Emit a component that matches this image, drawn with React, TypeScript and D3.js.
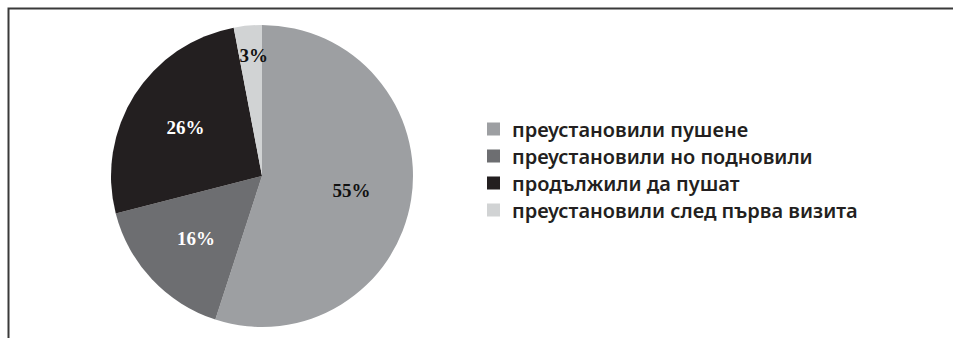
import React from 'react';
import * as d3 from 'd3';

const categories = [
  'преустановили пушене',
  'преустановили но подновили',
  'продължили да пушат',
  'преустановили след първа визита',
];
const values = [55, 16, 26, 3];
const colors = ['#9d9fa2', '#6d6e71', '#231f20', '#d1d3d4'];
const labelColors = ['#111', '#fff', '#fff', '#111'];

const W = 953;
const H = 338;
const cx = 262;
const cy = 176;
const R = 151;

export default function App() {
  const pie = d3.pie<number>().sort(null).value((d) => d).startAngle(0).endAngle(2 * Math.PI);
  const arcs = pie(values);
  const arc = d3.arc<d3.PieArcDatum<number>>().innerRadius(0).outerRadius(R);
  const labelArc = d3.arc<d3.PieArcDatum<number>>().innerRadius(R * 0.6).outerRadius(R * 0.6);
  const smallLabelArc = d3.arc<d3.PieArcDatum<number>>().innerRadius(R * 0.8).outerRadius(R * 0.8);
  const legendY = d3.scaleBand<number>().domain(d3.range(categories.length)).range([116, 224]);

  return (
    <svg width={W} height={H} style={{ position: 'absolute', left: 0, top: 0 }} lang="bg">
      <rect width={W} height={H} fill="#fff" />
      <path d={`M8.5,${H} L8.5,8.5 L${W},8.5`} fill="none" stroke="#3a3a3a" strokeWidth={2} />
      <g transform={`translate(${cx},${cy})`}>
        {arcs.map((a, i) => (
          <path key={i} d={arc(a) || ''} fill={colors[i]} />
        ))}
        {arcs.map((a, i) => {
          const [x, y] = (values[i] < 5 ? smallLabelArc : labelArc).centroid(a);
          return (
            <text
              key={i}
              x={x + (values[i] < 5 ? 3 : 0)}
              y={y}
              textAnchor="middle"
              dominantBaseline="central"
              fill={labelColors[i]}
              fontFamily="'Liberation Serif', serif"
              fontWeight="bold"
              fontSize={19}
            >
              {values[i]}%
            </text>
          );
        })}
      </g>
      <g>
        {categories.map((c, i) => {
          const y = (legendY(i) || 0) + legendY.bandwidth() / 2;
          return (
            <g key={i}>
              <rect x={487} y={y - 7} width={13} height={13} fill={colors[i]} />
              <text
                x={512}
                y={y}
                dominantBaseline="central"
                fontFamily="'Noto Sans', sans-serif"
                fontWeight={600}
                fontSize={20}
                fill="#231f20"
                lang="bg"
              >
                {c}
              </text>
            </g>
          );
        })}
      </g>
    </svg>
  );
}
